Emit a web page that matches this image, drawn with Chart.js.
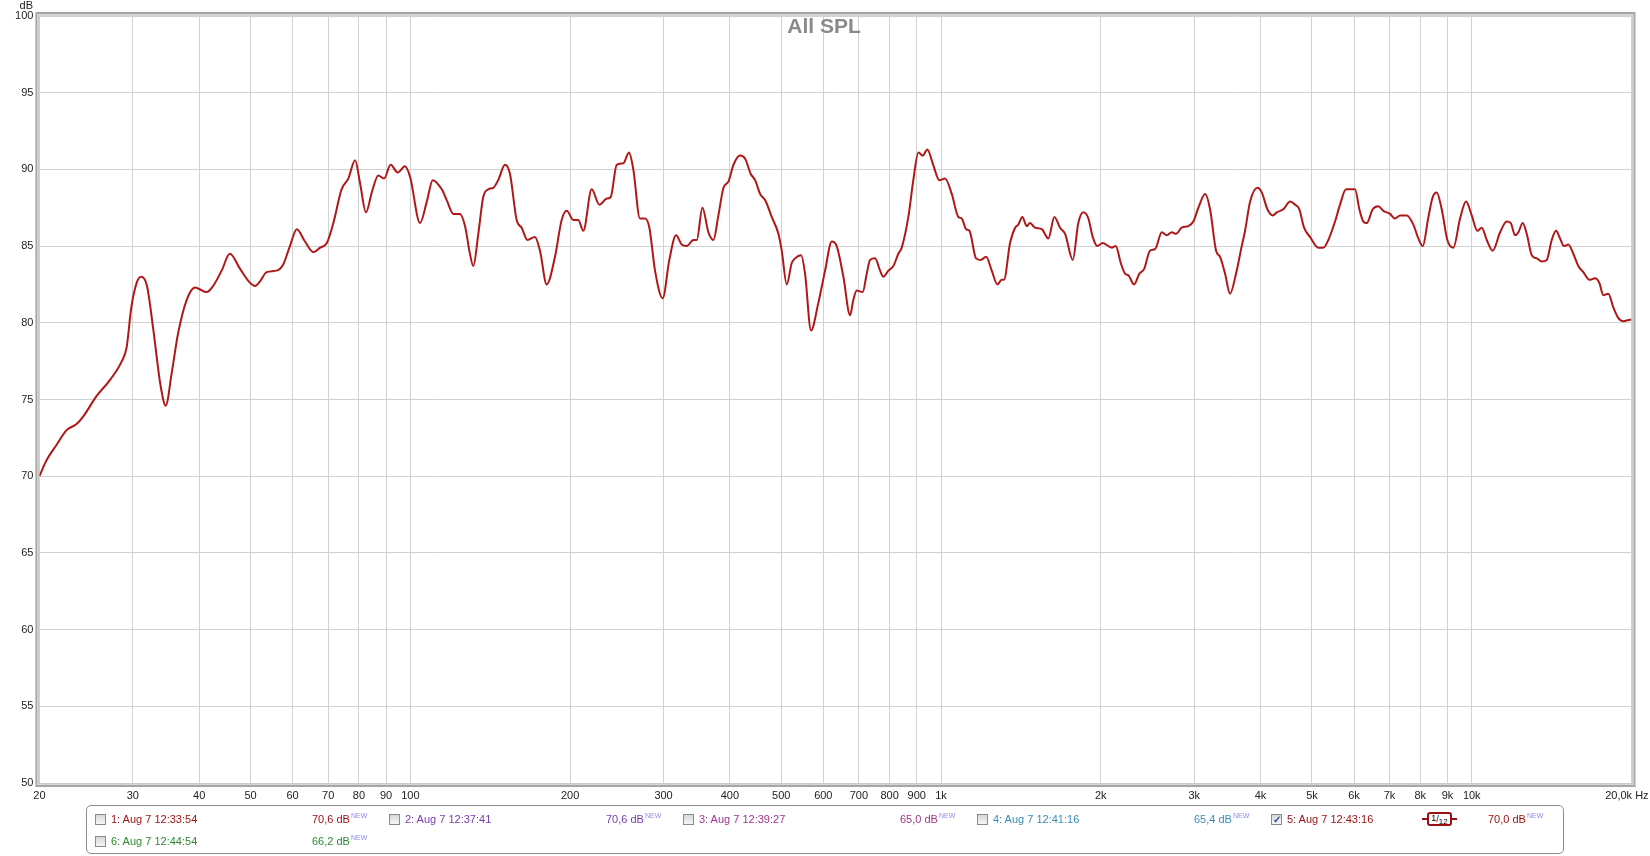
<html lang="de">
<head>
  <meta charset="UTF-8">
  <title>All SPL</title>
  <script src="https://cdn.jsdelivr.net/npm/chart.js"></script>
  <style>
    body { margin: 0; background: #fff; font-family: "Liberation Sans", Arial, sans-serif; }
    #wrap { position: relative; width: 1650px; height: 856px; overflow: hidden; }
    #spl { display: block; }
    #title { position: absolute; left: 724px; width: 200px; top: 15px; text-align: center;
             font-size: 21px; line-height: 21px; font-weight: bold; color: #8a8a8a; }
    #unit { position: absolute; left: 0; width: 33px; top: -1px; text-align: right;
            font-size: 11px; line-height: 13px; color: #222; }
    #legendBox { position: absolute; left: 86px; top: 805px; width: 1478px; height: 49px;
                 box-sizing: border-box; border: 1px solid #8c8c8c; border-radius: 5px; }
    .lg { position: absolute; font-size: 11px; line-height: 13px; white-space: nowrap; }
    .lg .new { font-size: 7px; line-height: 0; color: #8c8cf0; position: relative; top: -5px; margin-left: 1px; }
    .cb { position: absolute; width: 9px; height: 9px; border: 1px solid #8a8a8a;
          background: linear-gradient(#d8d8d8, #f6f6f6); font-size: 10px; line-height: 9px;
          color: #2a4aa0; text-align: center; font-weight: bold; }
    #smooth { position: absolute; left: 1422px; top: 812px; width: 35px; height: 14px; }
    #smooth .dash { position: absolute; top: 6px; height: 2px; width: 35px; background: #9a1010; }
    #smooth .badge { position: absolute; left: 5px; top: 0; width: 21px; height: 10px; background: #fff;
                     border: 2px solid #9a1010; border-radius: 3px; font-size: 9px; line-height: 10px;
                     text-align: center; color: #000; white-space: nowrap; }
    #smooth .badge span { position: relative; line-height: 0; }
  </style>
</head>
<body>
<div id="wrap">
  <canvas id="spl" width="1650" height="856"></canvas>
  <div id="title">All SPL</div>
  <div id="unit">dB</div>
  <div id="legendBox"></div>
  <div id="smooth"><div class="dash"></div><div class="badge"><span style="top:-1px">1</span>/<span style="top:2px;font-size:8px">12</span></div></div>
</div>

<script>
  const freqHz = [
    20, 20.6, 21.6, 22.5, 23.5, 24.2, 25.6, 27.2, 28.6, 29.2, 29.8, 30.5, 31.1, 31.9, 32.8, 33.8, 34.6,
    35.5, 36.5, 37.9, 39.3, 40.0, 41.3, 42.5, 44.1, 45.7, 47.8, 49.9, 51.0, 52.1, 53.6, 56.0, 57.6, 59.3,
    61.1, 63.3, 65.7, 67.6, 69.6, 71.6, 74.2, 76.4, 78.7, 80.4, 82.5, 84.6, 87.0, 89.2, 91.8, 94.7, 97.7,
    99.9, 104.3, 107.4, 110.2, 114.6, 117.1, 120.5, 124.0, 126.8, 129.5, 131.4, 134.3, 137.2, 140.2,
    143.3, 146.4, 150.8, 154.1, 158.6, 162.1, 166.2, 171.7, 175.5, 180.7, 187.3, 192.8, 197.1, 202.8,
    207.2, 211.8, 219.6, 227.1, 234.5, 238.6, 244.8, 252.0, 258.2, 263.1, 270.8, 276.8, 282.1, 289.1,
    298.9, 307.6, 316.7, 324.6, 331.7, 341.5, 346.5, 355.1, 364.5, 372.4, 380.6, 389.1, 397.5, 406.3,
    418.2, 427.4, 438, 446.3, 456.1, 466.1, 479.7, 493.8, 501, 512, 523.2, 530.8, 544.8, 554.3, 568.8,
    587.2, 604.6, 622.4, 636, 654.6, 673.8, 683.6, 693.7, 711.9, 724.4, 734.9, 751.1, 767.6, 778.6,
    795.7, 812.9, 830.9, 843.2, 867.7, 886.7, 906.1, 923.6, 942.3, 964.5, 992.8, 1017.5, 1047.6, 1078,
    1094, 1115, 1131, 1164, 1188, 1216, 1246, 1277, 1301, 1314, 1349, 1379, 1398, 1423, 1450, 1471,
    1503, 1548, 1593, 1635, 1676, 1713, 1771, 1814, 1854, 1895, 1931, 1970, 2017, 2067, 2097, 2134,
    2181, 2222, 2254, 2311, 2364, 2413, 2476, 2531, 2606, 2663, 2721, 2772, 2841, 2924, 2988, 3054,
    3145, 3213, 3298, 3356, 3429, 3504, 3596, 3686, 3740, 3823, 3945, 4021, 4121, 4217, 4291, 4416,
    4546, 4646, 4733, 4831, 4958, 5140, 5253, 5368, 5526, 5647, 5796, 5898, 6027, 6141, 6249, 6340,
    6507, 6668, 6814, 7014, 7168, 7325, 7545, 7762, 7931, 8085, 8286, 8443, 8590, 8779, 8995, 9233,
    9506, 9756, 10000, 10247, 10443, 10672, 10953, 11309, 11641, 11845, 12069, 12243, 12476, 12694,
    12975, 13259, 13549, 13846, 14149, 14416, 14670, 14927, 15206, 15539, 15880, 16228, 16655, 17071,
    17393, 17701, 18088, 18484, 18892, 19307, 19875, 20000
  ];
  const splDb = [
    70.0, 71.0, 72.1, 73.0, 73.4, 73.9, 75.2, 76.3, 77.5, 78.4, 81.0, 82.6, 83.0, 82.4, 79.5, 76.0, 74.6,
    76.7, 79.3, 81.5, 82.3, 82.2, 82.0, 82.4, 83.4, 84.5, 83.5, 82.6, 82.4, 82.7, 83.3, 83.4, 83.8, 85.0,
    86.1, 85.3, 84.6, 84.9, 85.2, 86.5, 88.7, 89.4, 90.6, 89.1, 87.2, 88.5, 89.6, 89.4, 90.3, 89.8, 90.2,
    89.5, 86.5, 87.9, 89.3, 88.7, 88.0, 87.1, 87.1, 86.3, 84.5, 83.7, 85.8, 88.2, 88.7,
    88.8, 89.3, 90.3, 89.7, 86.7, 86.2, 85.4, 85.6, 84.7, 82.5, 84.3, 86.7, 87.3, 86.7,
    86.7, 86.0, 88.7, 87.7, 88.1, 88.2, 90.3, 90.4, 91.1, 90.0, 86.8, 86.8, 86.2, 83.4,
    81.6, 84.1, 85.7, 85.1, 85.0, 85.4, 85.4, 87.5, 85.9, 85.4, 87.0, 88.8, 89.2, 90.3,
    90.9, 90.7, 89.7, 89.3, 88.4, 88.0, 86.9, 85.8, 84.7, 82.5, 83.9, 84.2, 84.4, 83.2, 79.5,
    81.3, 83.4, 85.3, 85.0, 83.0, 80.5, 81.5, 82.1, 82.0, 83.2, 84.1, 84.2, 83.4, 83.0,
    83.4, 83.7, 84.5, 84.9, 86.9, 89.3, 91.1, 90.9, 91.3, 90.4, 89.3, 89.4, 88.4, 86.9,
    86.8, 86.1, 86.0, 84.2, 84.1, 84.3, 83.4, 82.5, 82.8, 82.8, 85.2, 86.2, 86.4, 86.9, 86.3, 86.5,
    86.2, 86.1, 85.5, 86.9, 86.2, 85.8, 84.1, 86.5, 87.2, 86.8, 85.6, 85.0, 85.2, 85.0, 84.9, 85.0,
    83.9, 83.2, 83.1, 82.5, 83.2, 83.5, 84.7, 84.8, 85.9, 85.7, 85.9, 85.8, 86.2, 86.3, 86.6, 87.5,
    88.4, 87.4, 84.7, 84.3, 83.2, 81.9, 83.2, 85.0, 86.0, 87.9, 88.8, 88.5, 87.4, 87.0, 87.2, 87.4,
    87.9, 87.7, 87.4, 86.2, 85.6, 84.9, 84.9, 85.4, 86.6, 87.7, 88.7, 88.7, 88.7, 87.4, 86.6, 86.5,
    87.4, 87.6, 87.3, 87.1, 86.8, 87.0, 87.0, 86.4, 85.5, 85.0, 86.9, 88.2, 88.5, 87.4, 85.4, 84.9,
    86.8, 87.9, 87.0, 86.0, 86.2, 85.4, 84.7, 85.9, 86.6, 86.5, 85.7, 85.9, 86.5, 85.8,
    84.4, 84.2, 84.0, 84.1, 85.4, 86.0, 85.5, 85.0, 85.1, 84.5, 83.7, 83.3, 82.8, 82.9,
    82.6, 81.8, 81.9, 81.0, 80.3, 80.1, 80.2, 80.2
  ];

  const xTickValues = [20, 30, 40, 50, 60, 70, 80, 90, 100, 200, 300, 400, 500, 600, 700, 800, 900,
                       1000, 2000, 3000, 4000, 5000, 6000, 7000, 8000, 9000, 10000, 20000];
  const xTickLabels = ['20', '30', '40', '50', '60', '70', '80', '90', '100', '200', '300', '400', '500',
                       '600', '700', '800', '900', '1k', '2k', '3k', '4k', '5k', '6k', '7k', '8k', '9k',
                       '10k', '20,0k Hz   '];

  const legendNames = ['1: Aug 7 12:33:54', '2: Aug 7 12:37:41', '3: Aug 7 12:39:27',
                       '4: Aug 7 12:41:16', '5: Aug 7 12:43:16', '6: Aug 7 12:44:54'];
  const legendLevels = ['70,6 dB', '70,6 dB', '65,0 dB', '65,4 dB', '70,0 dB', '66,2 dB'];
  const legendColors = ['#a01414', '#7a3cb0', '#a0368c', '#3a8cb8', '#a01414', '#2e8a2e'];

  const FONT = '"Liberation Sans", Arial, sans-serif';

  // thick grey frame round the plot area
  const frame = {
    id: 'frame',
    afterDatasetsDraw(chart) {
      const { ctx, chartArea: a } = chart;
      ctx.save();
      ctx.lineWidth = 2;
      ctx.strokeStyle = '#a6a6a6';
      ctx.strokeRect(a.left - 3, a.top - 3, a.right - a.left + 6, a.bottom - a.top + 6);
      ctx.lineWidth = 1.5;
      ctx.strokeStyle = '#c8c8c8';
      ctx.strokeRect(a.left - 1, a.top - 1, a.right - a.left + 2, a.bottom - a.top + 2);
      ctx.restore();
    }
  };

  new Chart(document.getElementById('spl'), {
    type: 'line',
    data: {
      datasets: [{
        data: freqHz.map((f, i) => ({ x: f, y: splDb[i] })),
        borderColor: '#b01818',
        borderWidth: 2,
        pointRadius: 0,
        cubicInterpolationMode: 'monotone',
        fill: false
      }]
    },
    options: {
      responsive: false,
      animation: false,
      layout: { padding: { left: 0, top: 16, right: 18.5, bottom: 51 } },
      plugins: { legend: { display: false }, tooltip: { enabled: false }, title: { display: false } },
      scales: {
        x: {
          type: 'logarithmic',
          min: 20,
          max: 20000,
          afterBuildTicks: s => { s.ticks = xTickValues.map(v => ({ value: v })); },
          afterFit: s => { s.height = 22; s.paddingLeft = 0; s.paddingRight = 0; },
          ticks: {
            autoSkip: false, maxRotation: 0, minRotation: 0, padding: 6,
            color: '#222', font: { family: FONT, size: 11 },
            callback: (v, i) => xTickLabels[i]
          },
          grid: { color: '#d2d2d2', drawTicks: false },
          border: { display: false }
        },
        y: {
          min: 50,
          max: 100,
          afterFit: s => { s.width = 39.4; s.paddingTop = 0; s.paddingBottom = 0; },
          ticks: { stepSize: 5, padding: 6, color: '#222', font: { family: FONT, size: 11 } },
          grid: { color: '#d2d2d2', drawTicks: false },
          border: { display: false }
        }
      }
    },
    plugins: [frame]
  });

  // legend rows below the plot
  const wrap = document.getElementById('wrap');
  legendNames.forEach((name, i) => {
    const col = i < 5 ? i : 0;
    const rowTop = i < 5 ? 813 : 835;
    const cb = document.createElement('div');
    cb.className = 'cb';
    cb.style.left = (95 + 294 * col) + 'px';
    cb.style.top = (rowTop + 1) + 'px';
    if (i === 4) cb.textContent = '\u2713';
    wrap.appendChild(cb);

    const nm = document.createElement('div');
    nm.className = 'lg';
    nm.style.left = (111 + 294 * col) + 'px';
    nm.style.top = rowTop + 'px';
    nm.style.color = legendColors[i];
    nm.textContent = name;
    wrap.appendChild(nm);

    const lv = document.createElement('div');
    lv.className = 'lg';
    lv.style.left = (312 + 294 * col) + 'px';
    lv.style.top = rowTop + 'px';
    lv.style.color = legendColors[i];
    lv.innerHTML = legendLevels[i] + '<span class="new">NEW</span>';
    wrap.appendChild(lv);
  });
</script>
</body>
</html>
